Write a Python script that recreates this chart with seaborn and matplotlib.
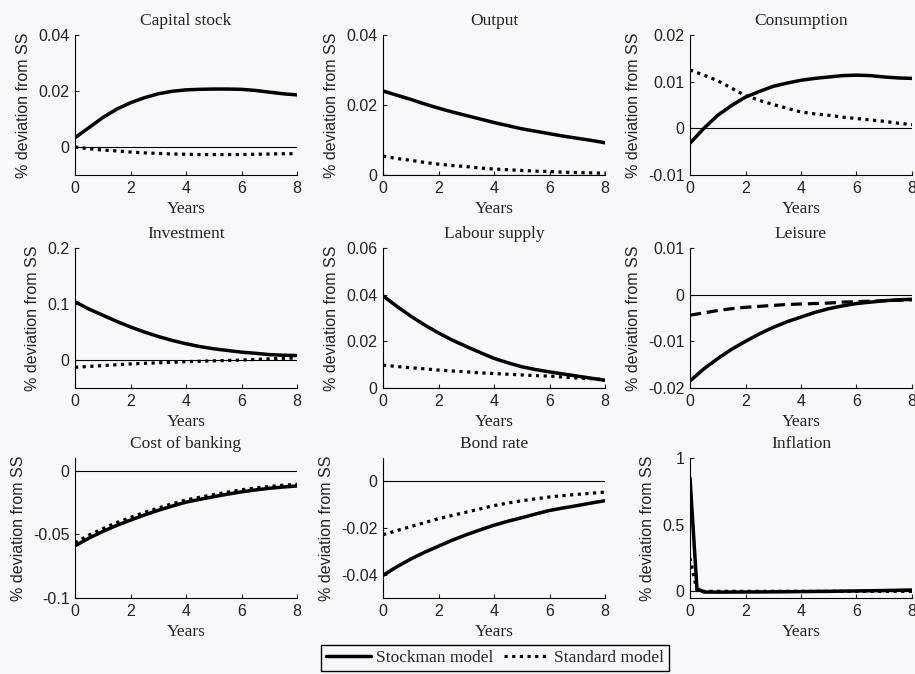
import numpy as np
import pandas as pd
import seaborn as sns
import matplotlib.pyplot as plt
from matplotlib.lines import Line2D
from matplotlib.ticker import FormatStrFormatter

# Time axis (years, half-year steps)
years = [0, 0.5, 1, 1.5, 2, 2.5, 3, 3.5, 4, 4.5, 5, 5.5, 6, 6.5, 7, 7.5, 8]

cap_stockman = [0.0033, 0.0069, 0.0105, 0.0135, 0.0158, 0.0176, 0.0190, 0.0199, 0.0204,
                0.0206, 0.0207, 0.0207, 0.0206, 0.0202, 0.0196, 0.0190, 0.0186]
cap_standard = [0.0, -0.0006, -0.0011, -0.0014, -0.0018, -0.0021, -0.0023, -0.0025, -0.0026,
                -0.0027, -0.0027, -0.0027, -0.0027, -0.0026, -0.0025, -0.0024, -0.0024]

out_stockman = [0.0240, 0.0228, 0.0216, 0.0203, 0.0191, 0.0180, 0.0170, 0.0160, 0.0150,
                0.0141, 0.0132, 0.0125, 0.0118, 0.0111, 0.0105, 0.0099, 0.0092]
out_standard = [0.0054, 0.0047, 0.0042, 0.0036, 0.0031, 0.0027, 0.0024, 0.0020, 0.0017,
                0.0015, 0.0013, 0.0011, 0.0010, 0.0008, 0.0007, 0.0006, 0.0005]

cons_stockman = [-0.0032, 0.0000, 0.0028, 0.0049, 0.0067, 0.0079, 0.0090, 0.0097, 0.0103,
                 0.0107, 0.0110, 0.0113, 0.0114, 0.0113, 0.0110, 0.0108, 0.0107]
cons_standard = [0.0125, 0.0114, 0.0102, 0.0086, 0.0070, 0.0060, 0.0051, 0.0043, 0.0035,
                 0.0031, 0.0028, 0.0024, 0.0021, 0.0018, 0.0015, 0.0011, 0.0008]

inv_stockman = [0.104, 0.091, 0.080, 0.069, 0.059, 0.050, 0.042, 0.035, 0.029,
                0.024, 0.020, 0.017, 0.014, 0.012, 0.0096, 0.0085, 0.008]
inv_standard = [-0.013, -0.0115, -0.010, -0.0085, -0.007, -0.006, -0.005, -0.004, -0.003,
                -0.0022, -0.0015, -0.0008, 0.0, 0.001, 0.002, 0.003, 0.0036]

lab_stockman = [0.0395, 0.0350, 0.0308, 0.0270, 0.0236, 0.0205, 0.0178, 0.0152, 0.0127,
                0.0108, 0.0091, 0.0079, 0.0069, 0.0060, 0.0051, 0.0042, 0.0033]
lab_standard = [0.0098, 0.0092, 0.0087, 0.0082, 0.0077, 0.0073, 0.0069, 0.0065, 0.0062,
                0.0059, 0.0056, 0.0053, 0.0051, 0.0047, 0.0043, 0.0040, 0.0036]

lei_stockman = [-0.0185, -0.0159, -0.0137, -0.0117, -0.0100, -0.0084, -0.0070, -0.0058, -0.0048,
                -0.0038, -0.0030, -0.0024, -0.0019, -0.0016, -0.0013, -0.0011, -0.0010]
lei_standard = [-0.0044, -0.0039, -0.0034, -0.0030, -0.0027, -0.0025, -0.0023, -0.0021, -0.0020,
                -0.0019, -0.0018, -0.0016, -0.0015, -0.0014, -0.0013, -0.0012, -0.0011]

cob_stockman = [-0.059, -0.053, -0.0477, -0.043, -0.0388, -0.0348, -0.0311, -0.0278, -0.0247,
                -0.0225, -0.0204, -0.0184, -0.0166, -0.0151, -0.0138, -0.0128, -0.0120]
cob_standard = [-0.0566, -0.0506, -0.0455, -0.0408, -0.0367, -0.0328, -0.0293, -0.0260, -0.0230,
                -0.0208, -0.0188, -0.0168, -0.0150, -0.0136, -0.0124, -0.0114, -0.0107]

bond_stockman = [-0.0403, -0.0366, -0.0333, -0.0304, -0.0278, -0.0252, -0.0229, -0.0208, -0.0188,
                 -0.0171, -0.0156, -0.0140, -0.0125, -0.0114, -0.0104, -0.0093, -0.0083]
bond_standard = [-0.0229, -0.0211, -0.0194, -0.0177, -0.0160, -0.0146, -0.0132, -0.0118, -0.0104,
                 -0.0093, -0.0083, -0.0075, -0.0067, -0.0061, -0.0056, -0.0051, -0.0046]

# inflation has a sharp jump in the first quarter
infl_years = [0, 0.25, 0.5, 1, 2, 3, 4, 5, 6, 7, 8]
infl_stockman = [0.85, 0.02, -0.005, -0.006, -0.005, -0.004, -0.002, 0.0, 0.003, 0.006, 0.01]
infl_standard = [0.25, 0.005, 0.0, 0.0, 0.0, 0.0, 0.0, 0.0, 0.0, 0.0, 0.0]

# (title, x, stockman, standard, ylim, yticks, standard style)
panels = [
    ('Capital stock', years, cap_stockman, cap_standard, (-0.01, 0.04), [0, 0.02, 0.04], 'dot'),
    ('Output', years, out_stockman, out_standard, (0, 0.04), [0, 0.02, 0.04], 'dot'),
    ('Consumption', years, cons_stockman, cons_standard, (-0.01, 0.02), [-0.01, 0, 0.01, 0.02], 'dot'),
    ('Investment', years, inv_stockman, inv_standard, (-0.05, 0.2), [0, 0.1, 0.2], 'dot'),
    ('Labour supply', years, lab_stockman, lab_standard, (0, 0.06), [0, 0.02, 0.04, 0.06], 'dot'),
    ('Leisure', years, lei_stockman, lei_standard, (-0.02, 0.01), [-0.02, -0.01, 0, 0.01], 'dash'),
    ('Cost of banking', years, cob_stockman, cob_standard, (-0.1, 0.01), [-0.1, -0.05, 0], 'dot'),
    ('Bond rate', years, bond_stockman, bond_standard, (-0.05, 0.01), [-0.04, -0.02, 0], 'dot'),
    ('Inflation', infl_years, infl_stockman, infl_standard, (-0.05, 1), [0, 0.5, 1], 'dot'),
]

sns.set_style('ticks')
plt.rcParams['axes.unicode_minus'] = False
plt.rcParams['font.family'] = ['Liberation Sans', 'DejaVu Sans']

bg = '#f8f8fa'
W, H = 915, 674
fig = plt.figure(figsize=(W / 100, H / 100), dpi=100, facecolor=bg)

col_left = [75, 383, 690]
row_top = [35, 248, 458]
ax_w, ax_h = 222, 140

dotted = (0, (1, 1.4))
serif = ['Liberation Serif', 'DejaVu Serif']

for i, (title, x, stock, std, ylim, yticks, style) in enumerate(panels):
    r, c = divmod(i, 3)
    left = col_left[c] / W
    bottom = 1 - (row_top[r] + ax_h) / H
    ax = fig.add_axes([left, bottom, ax_w / W, ax_h / H])
    ax.set_facecolor(bg)

    df = pd.DataFrame({'Years': x, 'Stockman': stock, 'Standard': std})
    ax.axhline(0, color='black', lw=0.8, zorder=1)
    ls = dotted if style == 'dot' else (0, (3.5, 1.8))
    sns.lineplot(data=df, x='Years', y='Standard', ax=ax, color='black',
                 lw=2.3, linestyle=ls, zorder=3)
    sns.lineplot(data=df, x='Years', y='Stockman', ax=ax, color='black',
                 lw=2.5, zorder=4)

    ax.set_xlim(0, 8)
    ax.set_ylim(*ylim)
    ax.set_xticks([0, 2, 4, 6, 8])
    ax.set_yticks(yticks)
    ax.yaxis.set_major_formatter(FormatStrFormatter('%g'))
    ax.tick_params(direction='in', length=3, width=0.8, labelsize=11.5,
                   colors='#222222', pad=4)
    for s in ['top', 'right']:
        ax.spines[s].set_visible(False)
    for s in ['left', 'bottom']:
        ax.spines[s].set_linewidth(0.8)
        ax.spines[s].set_color('black')

    ax.set_title(title, family=serif, fontsize=12.5, pad=7, color='#222222')
    ax.set_xlabel('Years', family=serif, fontsize=12.5, labelpad=4, color='#222222')
    ax.set_ylabel('% deviation from SS', fontsize=11.5, labelpad=5, color='#222222')

handles = [Line2D([], [], color='black', lw=2.5),
           Line2D([], [], color='black', lw=2.3, linestyle=dotted)]
fig.legend(handles, ['Stockman model', 'Standard model'], loc='center',
           bbox_to_anchor=(495 / W, 1 - 658 / H), ncol=2, frameon=True,
           fancybox=False, edgecolor='black', facecolor=bg, framealpha=1,
           prop={'family': serif, 'size': 12.5}, handlelength=2.6,
           handletextpad=0.3, columnspacing=0.6, borderpad=0.3)
fig.legend_ = None

fig.savefig('out.png', dpi=100, facecolor=bg)
